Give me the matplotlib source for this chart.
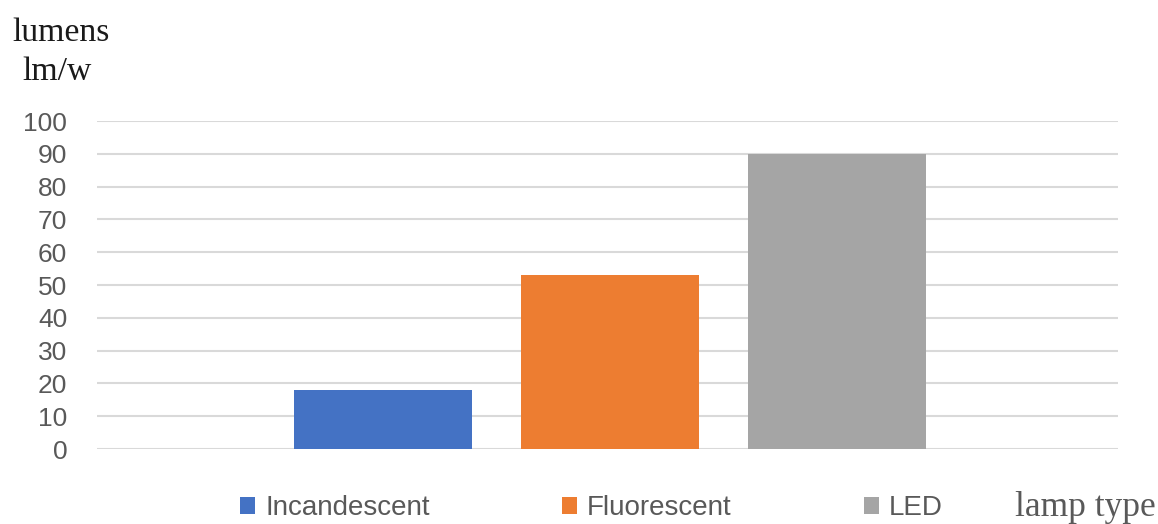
import matplotlib
matplotlib.use("Agg")
import matplotlib.pyplot as plt
from matplotlib.patches import Patch

# Luminous efficacy by lamp type
lamp_types = ["Incandescent", "Fluorescent", "LED"]
efficacy = [18, 53, 90]
colors = ["#4472C4", "#ED7D31", "#A5A5A5"]
y_ticks = list(range(0, 101, 10))

sans = "Liberation Sans"
serif = "Liberation Serif"

fig = plt.figure(figsize=(11.58, 5.24), dpi=100)
ax = fig.add_axes([0.0838, 0.1431, 0.8817, 0.6259])

positions = list(range(len(lamp_types)))
ax.bar(positions, efficacy, width=0.784, color=colors, zorder=3)

ax.set_xlim(-1.26, 3.24)
ax.set_ylim(0, 100)
ax.set_yticks(y_ticks)
ax.set_xticks([])
ax.grid(axis="y", color="#d9d9d9", linewidth=1.5, zorder=0)
for side in ["top", "right", "left", "bottom"]:
    ax.spines[side].set_visible(False)
ax.tick_params(axis="y", length=0, pad=21.5, labelsize=19, labelcolor="#595959")
for lbl in ax.get_yticklabels():
    lbl.set_fontfamily(sans)

fig.text(12 / 1158, 1 - 41 / 524, "lumens", fontsize=24.3, family=serif,
         color="#1a1a1a", ha="left", va="baseline")
fig.text(22 / 1158, 1 - 80 / 524, "lm/w", fontsize=24.3, family=serif,
         color="#1a1a1a", ha="left", va="baseline")
fig.text(1015 / 1158, 1 - 516 / 524, "lamp type", fontsize=25.5, family=serif,
         color="#595959", ha="left", va="baseline")

handles = [Patch(facecolor=c, edgecolor="none") for c in colors]
leg = fig.legend(handles, lamp_types, loc="center left",
                 bbox_to_anchor=(240 / 1158, 1 - 508 / 524), ncol=3,
                 frameon=False, prop={"family": sans, "size": 20},
                 handlelength=0.55, handleheight=0.55,
                 handletextpad=0.36, columnspacing=4.75, borderaxespad=0,
                 borderpad=0)
for t in leg.get_texts():
    t.set_color("#595959")

fig.savefig("out.png", dpi=100)
